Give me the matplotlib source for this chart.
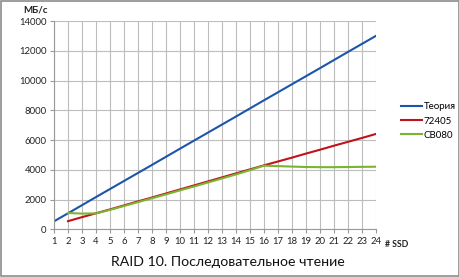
import matplotlib
matplotlib.use("Agg")
import matplotlib.pyplot as plt
from matplotlib.patches import Rectangle

plt.rcParams["font.family"] = ["Lato", "DejaVu Sans"]

# ── data ──────────────────────────────────────────────────────────────────────
ssd = list(range(1, 25))
theory = [540, 1080, 1625, 2170, 2710, 3250, 3790, 4330, 4875, 5420, 5960, 6500,
          7040, 7580, 8125, 8670, 9210, 9750, 10290, 10830, 11375, 11920, 12460, 13000]
ssd_hw = list(range(2, 25))
r72405 = [550, 820, 1080, 1340, 1610, 1880, 2140, 2410, 2680, 2950, 3220, 3490,
          3760, 4030, 4300, 4560, 4820, 5090, 5350, 5620, 5880, 6140, 6410]
cb080 = [1100, 1060, 1070, 1310, 1570, 1830, 2090, 2350, 2620, 2880, 3150, 3420,
         3690, 3980, 4280, 4250, 4220, 4190, 4180, 4180, 4190, 4200, 4210]

C_BLUE = "#1c55aa"
C_RED = "#c0121b"
C_GREEN = "#7ab530"
C_GRID = "#bdbdbd"

fig = plt.figure(figsize=(4.6, 2.77), dpi=100)
ax = fig.add_axes([0.1174, 0.172, 0.6996, 0.752])

ax.plot(ssd, theory, color=C_BLUE, lw=1.5, label="Теория")
ax.plot(ssd_hw, r72405, color=C_RED, lw=1.5, label="72405")
ax.plot(ssd_hw, cb080, color=C_GREEN, lw=1.5, label="CB080")

ax.set_xlim(1, 24)
ax.set_ylim(0, 14000)
ax.set_xticks(ssd)
ax.set_yticks(range(0, 14001, 2000))
ax.grid(True, color=C_GRID, lw=0.8)
ax.set_axisbelow(True)
for s in ["top", "right"]:
    ax.spines[s].set_visible(False)
for s in ["left", "bottom"]:
    ax.spines[s].set_color("#999999")
    ax.spines[s].set_linewidth(0.8)
ax.tick_params(axis="both", labelsize=6.8, color="#999999", length=3,
               width=0.8, pad=2.5, labelcolor="#222222")

ax.text(-0.02, 1.03, "МБ/с", transform=ax.transAxes, ha="right", va="bottom",
        fontsize=7, fontweight="bold", color="#222222")
ax.text(1.03, -0.05, "# SSD", transform=ax.transAxes, ha="left", va="top",
        fontsize=6.2, fontweight="bold", color="#222222")

fig.text(0.496, 0.055, "RAID 10. Последовательное чтение", ha="center",
         va="center", fontsize=10.2, color="#111111")

ax.legend(loc="center left", bbox_to_anchor=(1.05, 0.52), frameon=False,
          fontsize=7, handlelength=2.2, handletextpad=0.15, labelspacing=0.55)

fig.patches.append(Rectangle((0.002, 0.004), 0.996, 0.992, transform=fig.transFigure,
                             fill=False, edgecolor="#8c8c8c", lw=1.2))

fig.savefig("out.png", dpi=100)
